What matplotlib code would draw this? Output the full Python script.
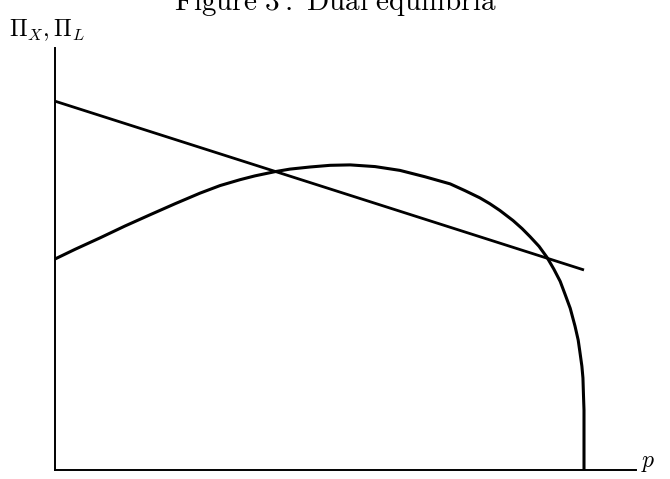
import matplotlib
matplotlib.use("Agg")
import matplotlib.pyplot as plt

plt.rcParams["mathtext.fontset"] = "cm"

# straight line (Pi_L), two end points in (p, profit) units
line_p = [0.0, 1.0]
line_pi = [0.874, 0.474]

# curved profit function (Pi_X)
curve_p = [0.000, 0.038, 0.085, 0.132, 0.180, 0.227, 0.274, 0.312, 0.350,
           0.378, 0.416, 0.444, 0.482, 0.520, 0.558, 0.605, 0.652, 0.699,
           0.747, 0.775, 0.803, 0.822, 0.841, 0.866, 0.883, 0.898, 0.915,
           0.930, 0.943, 0.955, 0.964, 0.974, 0.983, 0.989, 0.992, 0.996,
           0.998, 0.999, 1.000, 1.000]
curve_pi = [0.500, 0.523, 0.550, 0.578, 0.605, 0.631, 0.656, 0.674, 0.688,
            0.697, 0.707, 0.713, 0.718, 0.722, 0.723, 0.719, 0.710, 0.695,
            0.678, 0.662, 0.645, 0.631, 0.615, 0.591, 0.572, 0.553, 0.530,
            0.504, 0.476, 0.447, 0.417, 0.383, 0.341, 0.308, 0.282, 0.246,
            0.218, 0.178, 0.142, 0.000]

fig = plt.figure(figsize=(6.7, 4.79), dpi=100)
ax = fig.add_axes([55 / 670, 9 / 479, 581 / 670, 422 / 479])

ax.plot(line_p, line_pi, color="black", lw=2.0, solid_capstyle="butt")
ax.plot(curve_p, curve_pi, color="black", lw=2.2, solid_joinstyle="round")

ax.set_xlim(0, 581 / 529)
ax.set_ylim(0, 1.0)
for s in ["top", "right"]:
    ax.spines[s].set_visible(False)
for s in ["left", "bottom"]:
    ax.spines[s].set_linewidth(1.4)
ax.set_xticks([])
ax.set_yticks([])

fig.text(9 / 670, 1 - 36 / 479, r"$\Pi_X, \Pi_L$", fontsize=17, va="baseline", ha="left")
fig.text(641 / 670, 1 - 467 / 479, r"$p$", fontsize=17, va="baseline", ha="left")
fig.text(0.5, 1 - 10 / 479, r"$\mathrm{Figure\ 3{:}\ Dual\ equilibria}$",
         fontsize=21, va="baseline", ha="center")

fig.savefig("out.png", dpi=100)
